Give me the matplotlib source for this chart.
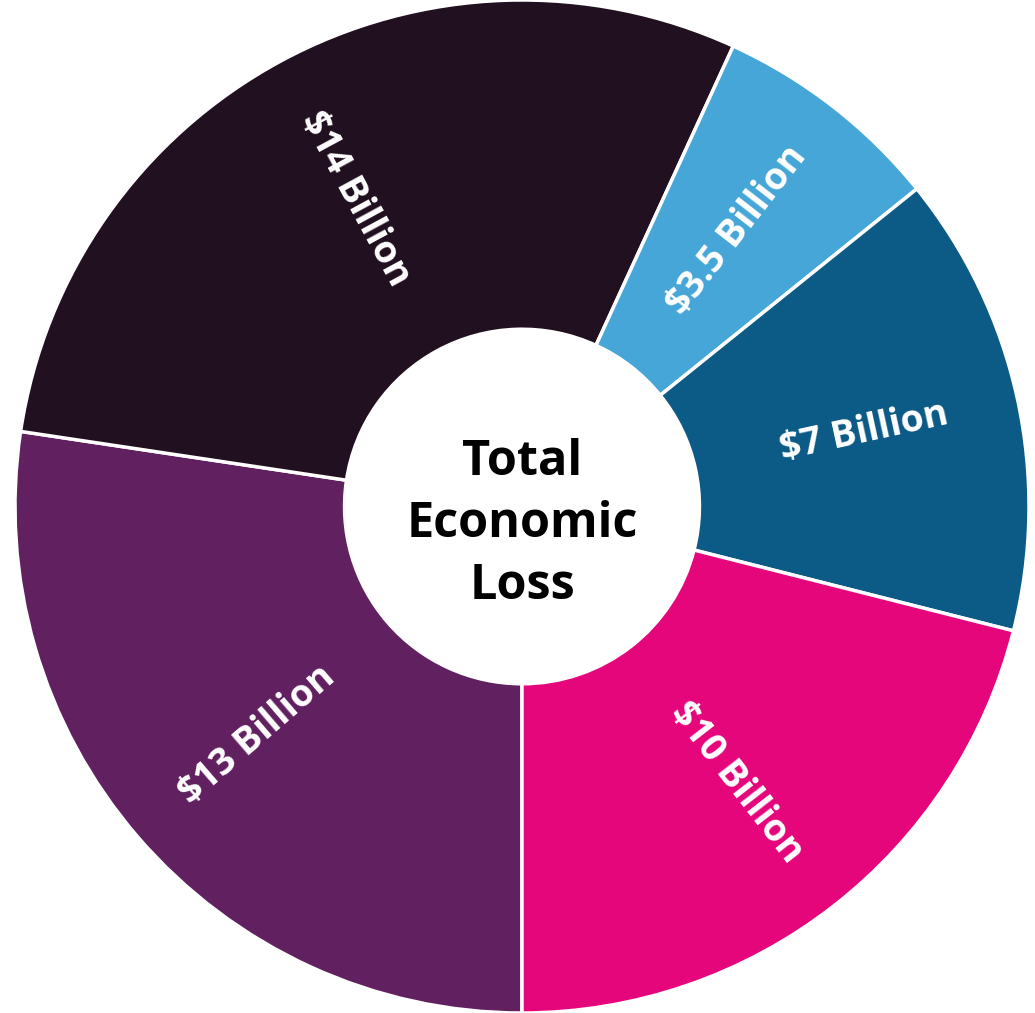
import numpy as np
import matplotlib.pyplot as plt

labels = ['$13 Billion', '$14 Billion', '$3.5 Billion', '$7 Billion', '$10 Billion']
values = [13, 14, 3.5, 7, 10]
colors = ['#61205f', '#21101f', '#46a6d8', '#0c5a86', '#e6067c']

fig = plt.figure(figsize=(10.35, 10.13), dpi=100)
ax = fig.add_axes([15 / 1035, 0, 1014 / 1035, 1])

wedges, _ = ax.pie(values, colors=colors, startangle=270, counterclock=False,
                   radius=1.0,
                   wedgeprops=dict(width=0.65, edgecolor='white', linewidth=2.5))

# radial labels inside each wedge
for w, lab in zip(wedges, labels):
    mid = (w.theta1 + w.theta2) / 2.0
    r = 0.69
    x = r * np.cos(np.deg2rad(mid))
    y = r * np.sin(np.deg2rad(mid))
    a = mid % 360
    rot = a - 180 if 90 < a < 270 else a
    if rot > 180:
        rot -= 360
    ax.text(x, y, lab, rotation=rot, rotation_mode='anchor', ha='center', va='center',
            color='white', fontsize=27, fontweight='bold', family='Open Sans')

ax.text(0, -0.035, 'Total\nEconomic\nLoss', ha='center', va='center', fontsize=35,
        fontweight='bold', family='Open Sans', color='black', linespacing=1.35)

ax.set_xlim(-1, 1)
ax.set_ylim(-1, 1)
ax.set_aspect('auto')
ax.axis('off')

plt.savefig('out.png', dpi=100)
